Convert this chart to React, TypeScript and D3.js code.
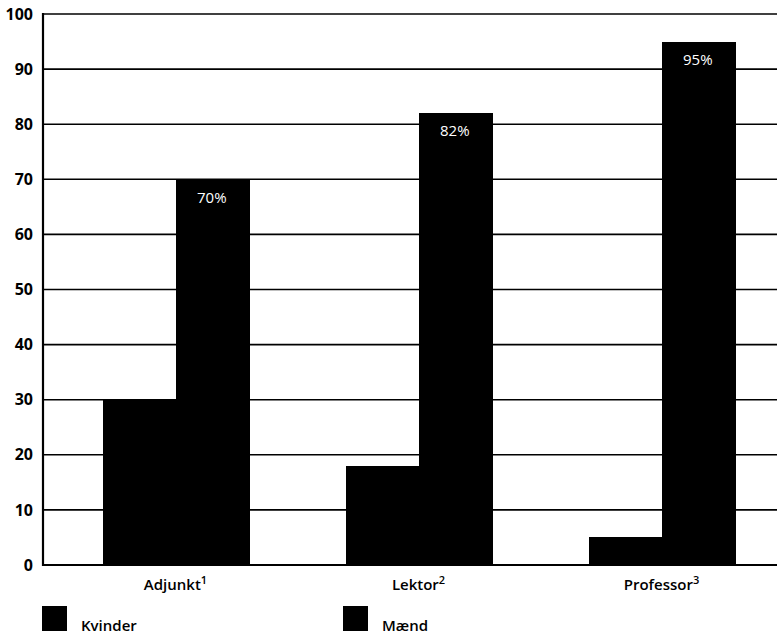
import React from "react";
import * as d3 from "d3";

const categories = ["Adjunkt", "Lektor", "Professor"];
const superscripts = ["1", "2", "3"];
const seriesNames = ["Kvinder", "Mænd"];
const kvinder = [30, 18, 5];
const maend = [70, 82, 95];
const yTicks = [0, 10, 20, 30, 40, 50, 60, 70, 80, 90, 100];

const W = 777;
const H = 634;
const font = "'Open Sans', 'DejaVu Sans', sans-serif";

export default function App() {
  const left = 43;
  const y = d3.scaleLinear().domain([0, 100]).range([565, 14]);
  const x0 = d3.scaleBand<string>().domain(categories).range([54, 783]).padding(0);
  const groupW = 145;
  const x1 = d3.scaleBand<string>().domain(seriesNames).range([0, groupW]).padding(0);
  const values = [kvinder, maend];

  return (
    <svg width={W} height={H} style={{ position: "absolute", left: 0, top: 0, background: "#fff" }}>
      <rect x={0} y={0} width={W} height={H} fill="#fff" />
      {yTicks.map((t) => (
        <g key={t}>
          <line x1={left} x2={W} y1={y(t)} y2={y(t)} stroke="#000" strokeWidth={t === 0 ? 2.2 : 1.6} />
          <text
            x={33}
            y={y(t)}
            dy="0.35em"
            textAnchor="end"
            fontFamily={font}
            fontWeight={700}
            fontSize={16}
            fill="#000"
          >
            {t}
          </text>
        </g>
      ))}
      <line x1={left} x2={left} y1={y(100) - 1} y2={y(0) + 1} stroke="#000" strokeWidth={2.2} />
      {categories.map((c, i) => {
        const gx = (x0(c) as number) + (x0.bandwidth() - groupW) / 2;
        return (
          <g key={c}>
            {seriesNames.map((s, j) => {
              const v = values[j][i];
              const bx = gx + (x1(s) as number);
              return (
                <g key={s}>
                  <rect
                    x={Math.round(bx)}
                    y={y(v)}
                    width={Math.round(x1.bandwidth()) + 1}
                    height={y(0) - y(v)}
                    fill="#000"
                    shapeRendering="crispEdges"
                  />
                  {j === 1 && (
                    <text
                      x={bx + x1.bandwidth() / 2}
                      y={y(v) + 18}
                      dy="0.35em"
                      textAnchor="middle"
                      fontFamily={font}
                      fontWeight={500}
                      fontSize={15}
                      fill="#fff"
                    >
                      {v}%
                    </text>
                  )}
                </g>
              );
            })}
            <text
              x={gx + groupW / 2}
              y={590}
              textAnchor="middle"
              fontFamily={font}
              fontWeight={600}
              fontSize={15}
              fill="#000"
            >
              {c}
              <tspan fontSize={11} dy={-6}>{superscripts[i]}</tspan>
            </text>
          </g>
        );
      })}
      {seriesNames.map((s, j) => {
        const lx = j === 0 ? 42 : 343;
        return (
          <g key={s}>
            <rect x={lx} y={606} width={25} height={25} fill="#000" />
            <text x={lx + 39} y={631} fontFamily={font} fontWeight={600} fontSize={15} fill="#000">
              {s}
            </text>
          </g>
        );
      })}
    </svg>
  );
}
